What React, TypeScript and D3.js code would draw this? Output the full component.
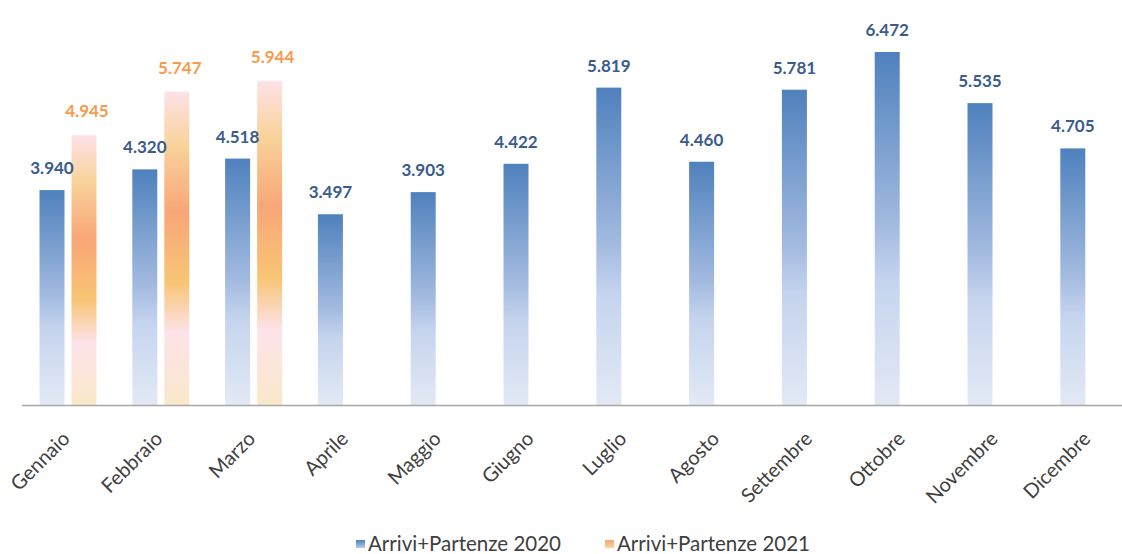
import React from "react";
import * as d3 from "d3";

const months = ["Gennaio","Febbraio","Marzo","Aprile","Maggio","Giugno","Luglio","Agosto","Settembre","Ottobre","Novembre","Dicembre"];
const series2020 = [3940,4320,4518,3497,3903,4422,5819,4460,5781,6472,5535,4705];
const series2021 = [4945,5747,5944];
const seriesNames = ["Arrivi+Partenze 2020","Arrivi+Partenze 2021"];

const W = 1122, H = 554;
const baseY = 405;

export default function App() {
  const x0 = d3.scaleBand<string>().domain(months).range([21.6, 21.6 + 12 * 92.8]).paddingInner(0.386).paddingOuter(0.193);
  const x1 = d3.scaleBand<string>().domain(["2020","2021"]).range([0, x0.bandwidth()]).paddingInner(0.21875);
  const y = d3.scaleLinear().domain([0, 6472]).range([baseY, 52]);
  const fmt = (v: number) => d3.format(",")(v).replace(/,/g, ".");
  const bw = x1.bandwidth();
  const font = "Lato, Calibri, Carlito, 'Open Sans', sans-serif";

  return (
    <svg width={W} height={H} style={{ position: "absolute", left: 0, top: 0, background: "#fff" }} fontFamily={font}>
      <defs>
        <linearGradient id="gBlue" x1="0" y1="0" x2="0" y2="1">
          <stop offset="0" stopColor="#4f81bd" />
          <stop offset="0.5" stopColor="#a4bbe0" />
          <stop offset="0.65" stopColor="#c5d4ee" />
          <stop offset="1" stopColor="#e3e9f5" />
        </linearGradient>
        <linearGradient id="gOrange" x1="0" y1="0" x2="0" y2="1">
          <stop offset="0" stopColor="#fde2e8" />
          <stop offset="0.17" stopColor="#f9d39b" />
          <stop offset="0.385" stopColor="#f8a677" />
          <stop offset="0.61" stopColor="#f8c575" />
          <stop offset="0.77" stopColor="#fde3ea" />
          <stop offset="1" stopColor="#f9e8c9" />
        </linearGradient>
        <linearGradient id="lBlue" x1="0" y1="0" x2="0" y2="1">
          <stop offset="0" stopColor="#4f81bd" />
          <stop offset="1" stopColor="#b7c9e8" />
        </linearGradient>
        <linearGradient id="lOrange" x1="0" y1="0" x2="0" y2="1">
          <stop offset="0" stopColor="#f8a677" />
          <stop offset="1" stopColor="#f9d39b" />
        </linearGradient>
      </defs>

      {months.map((m, i) => {
        const v = series2020[i];
        const bx = x0(m)! + x1("2020")!;
        return <rect key={"b" + m} x={bx} y={y(v)} width={bw} height={baseY - y(v)} fill="url(#gBlue)" />;
      })}
      {series2021.map((v, i) => {
        const m = months[i];
        const bx = x0(m)! + x1("2021")!;
        return <rect key={"o" + m} x={bx} y={y(v)} width={bw} height={baseY - y(v)} fill="url(#gOrange)" />;
      })}

      {months.map((m, i) => {
        const v = series2020[i];
        const bx = x0(m)! + x1("2020")!;
        return (
          <text key={"tb" + m} x={bx + bw / 2} y={y(v) - 16} textAnchor="middle" fontSize={17} fontWeight={700} fill="#3a5b8c">{fmt(v)}</text>
        );
      })}
      {series2021.map((v, i) => {
        const m = months[i];
        const bx = x0(m)! + x1("2021")!;
        return (
          <text key={"to" + m} x={bx + bw / 2 + 3} y={y(v) - 18} textAnchor="middle" fontSize={17} fontWeight={700} fill="#f79a4c">{fmt(v)}</text>
        );
      })}

      <line x1={22} x2={W} y1={baseY + 0.5} y2={baseY + 0.5} stroke="#a6a6a6" strokeWidth={1.5} />

      {months.map((m) => {
        const cx = x0(m)! + x0.bandwidth() / 2;
        return (
          <text key={"l" + m} transform={`translate(${cx + 3},${440}) rotate(-45)`} textAnchor="end" fontSize={20} fill="#404040">{m}</text>
        );
      })}

      <g>
        <rect x={356} y={540} width={9} height={8} fill="url(#lBlue)" />
        <text x={368} y={551} fontSize={20.5} fill="#404040">{seriesNames[0]}</text>
        <rect x={605} y={540} width={9} height={8} fill="url(#lOrange)" />
        <text x={617} y={551} fontSize={20.5} fill="#404040">{seriesNames[1]}</text>
      </g>
    </svg>
  );
}
